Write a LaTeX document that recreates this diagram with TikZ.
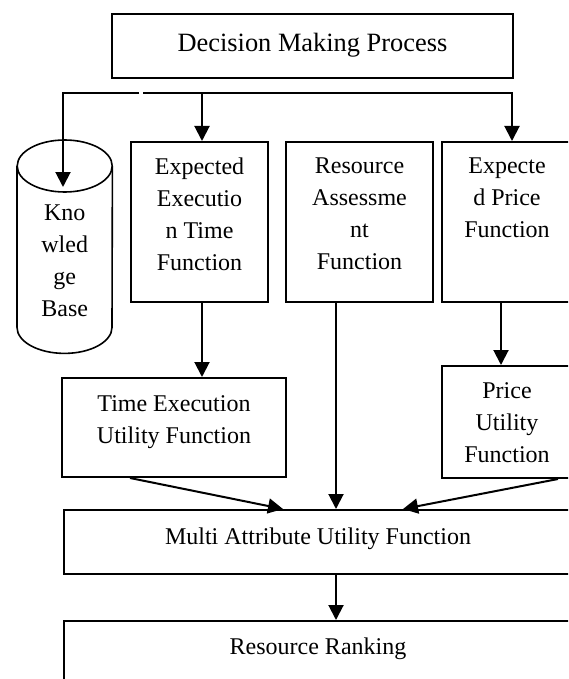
\documentclass[tikz,border=0pt]{standalone}
\usepackage{fontspec}
\setmainfont{Liberation Serif}
\usetikzlibrary{arrows.meta}
\newcommand{\boxtxt}[4]{\begin{minipage}[t][#2][t]{#1}\centering\vspace*{#3}#4\end{minipage}}
\begin{document}
\begin{tikzpicture}[x=1pt,y=1pt,
  bx/.style={draw, line width=2pt, inner sep=0pt, anchor=north west, font=\fontsize{24}{32}\selectfont},
  txt/.style={inner sep=0pt, anchor=north west, font=\fontsize{24}{32}\selectfont},
  cyl/.style={line width=1.6pt},
  conn/.style={line width=2pt},
  arr/.style={line width=2pt, -{Triangle[length=15pt,width=15pt]}}]
\useasboundingbox (0,0) rectangle (568,-679);
\clip (0,0) rectangle (568,-679);

% boxes
\node[bx, font=\fontsize{26.4}{32}\selectfont] (dmp) at (111,-13) {\boxtxt{401pt}{64pt}{19pt}{Decision Making Process}};
\node[bx] (ee) at (130,-141) {\boxtxt{137pt}{160pt}{15.8pt}{Expected\\Executio\\n Time\\Function}};
\node[bx] (ra) at (285,-141) {\boxtxt{147pt}{160pt}{16pt}{Resource\\Assessme\\nt\\Function}};
\node[bx] (ep) at (441,-141) {\boxtxt{130pt}{160pt}{16pt}{Expecte\\d Price\\Function}};
\node[txt] (kb) at (17,-140) {\boxtxt{95pt}{213pt}{65pt}{Kno\\wled\\ge\\Base}};
\node[bx] (te) at (61,-377) {\boxtxt{224pt}{99pt}{17.8pt}{Time Execution\\Utility Function}};
\node[bx] (pu) at (441,-365) {\boxtxt{130pt}{112pt}{16.8pt}{Price\\Utility\\Function}};
\node[bx] (mauf) at (63,-509) {\boxtxt{508pt}{64pt}{17.6pt}{Multi Attribute Utility Function}};
\node[bx] (rr) at (63,-620) {\boxtxt{508pt}{80pt}{16.5pt}{Resource Ranking}};

% knowledge base cylinder
\draw[cyl] ([yshift=-26pt]kb.north west) -- ([yshift=26pt]kb.south west)
  arc[start angle=180, end angle=360, x radius=47.5pt, y radius=26pt]
  -- ([yshift=-26pt]kb.north east);
\draw[cyl] ([yshift=-26pt]kb.north) ellipse[x radius=47.5pt, y radius=26pt];

% coordinates for connector ends
\coordinate (busL) at (63,-93);
\coordinate (gapL) at (139,-93);
\coordinate (gapR) at (143,-93);
\coordinate (busE) at (202,-93);
\coordinate (busR) at (512,-93);
\coordinate (kbin) at (63,-187);
\coordinate (eex) at (202,0);
\coordinate (epx) at (501,0);
\coordinate (mid) at (336,0);
\coordinate (tex) at (130,0);
\coordinate (mlx) at (283,0);
\coordinate (pux) at (558,0);
\coordinate (mrx) at (403,0);

% connectors
\draw[arr] (gapL) -- (busL) -- (kbin);
\draw[arr] (gapR) -- (busR) -- (busR |- ep.north);
\draw[arr] (busE) -- (busE |- ee.north);
\draw[arr] (ee.south -| eex) -- (te.north -| eex);
\draw[arr] (ep.south -| epx) -- (pu.north -| epx);
\draw[arr] (ra.south -| mid) -- (mauf.north -| mid);
\draw[arr] (te.south -| tex) -- (mauf.north -| mlx);
\draw[arr] (pu.south -| pux) -- (mauf.north -| mrx);
\draw[arr] (mauf.south -| mid) -- (rr.north -| mid);
\end{tikzpicture}
\end{document}
